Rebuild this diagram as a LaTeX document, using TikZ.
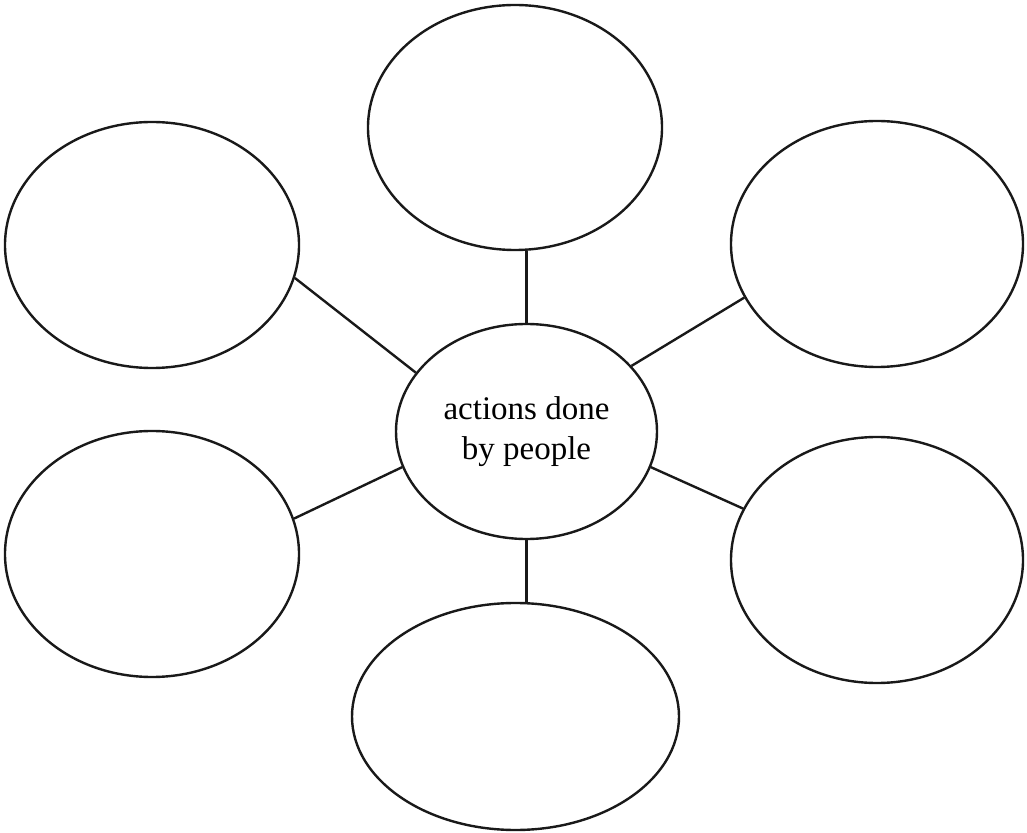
\documentclass[tikz,border=0pt]{standalone}
\usepackage{fontspec}
\setmainfont{Liberation Serif}
\usetikzlibrary{shapes.geometric}

\begin{document}
\begin{tikzpicture}[x=0.5pt,y=-0.5pt,
	bubble/.style={draw=black!90,ellipse,line width=1.2pt,inner sep=0pt,minimum width=147pt,minimum height=123pt},
	spoke/.style={draw=black!90,line width=1.2pt}]
		%\draw [help lines] (0,0) grid (1027,833);
		\useasboundingbox (0,0) rectangle (1027,833);
		\node [bubble,minimum width=130.5pt,minimum height=107.5pt,align=center,font=\fontsize{16.5}{20}\selectfont] (hub) at (526.5,431.5) {actions done\\by people};
		
		\node [bubble,minimum height=122.5pt] (top) at (515,127.5) {};
		\node [bubble] (topleft) at (152,245) {};
		\node [bubble,minimum width=146pt] (topright) at (877,244) {};
		\node [bubble] (botleft) at (152,554) {};
		\node [bubble,minimum width=146pt] (botright) at (877,560) {};
		\node [bubble,minimum width=163.5pt,minimum height=113.5pt] (bottom) at (515.5,716.5) {};
		
		\draw [spoke] (hub.north) -- (hub.north |- top.south);
		\draw [spoke] (hub.south) -- (hub.south |- bottom.north);
		\draw [spoke] (hub.152) -- (topleft.-13);
		\draw [spoke] (hub.32) -- (topright.-158);
		\draw [spoke] (hub.196) -- (botleft.14);
		\draw [spoke] (hub.-16) -- (botright.159);
	\end{tikzpicture}
\end{document}
